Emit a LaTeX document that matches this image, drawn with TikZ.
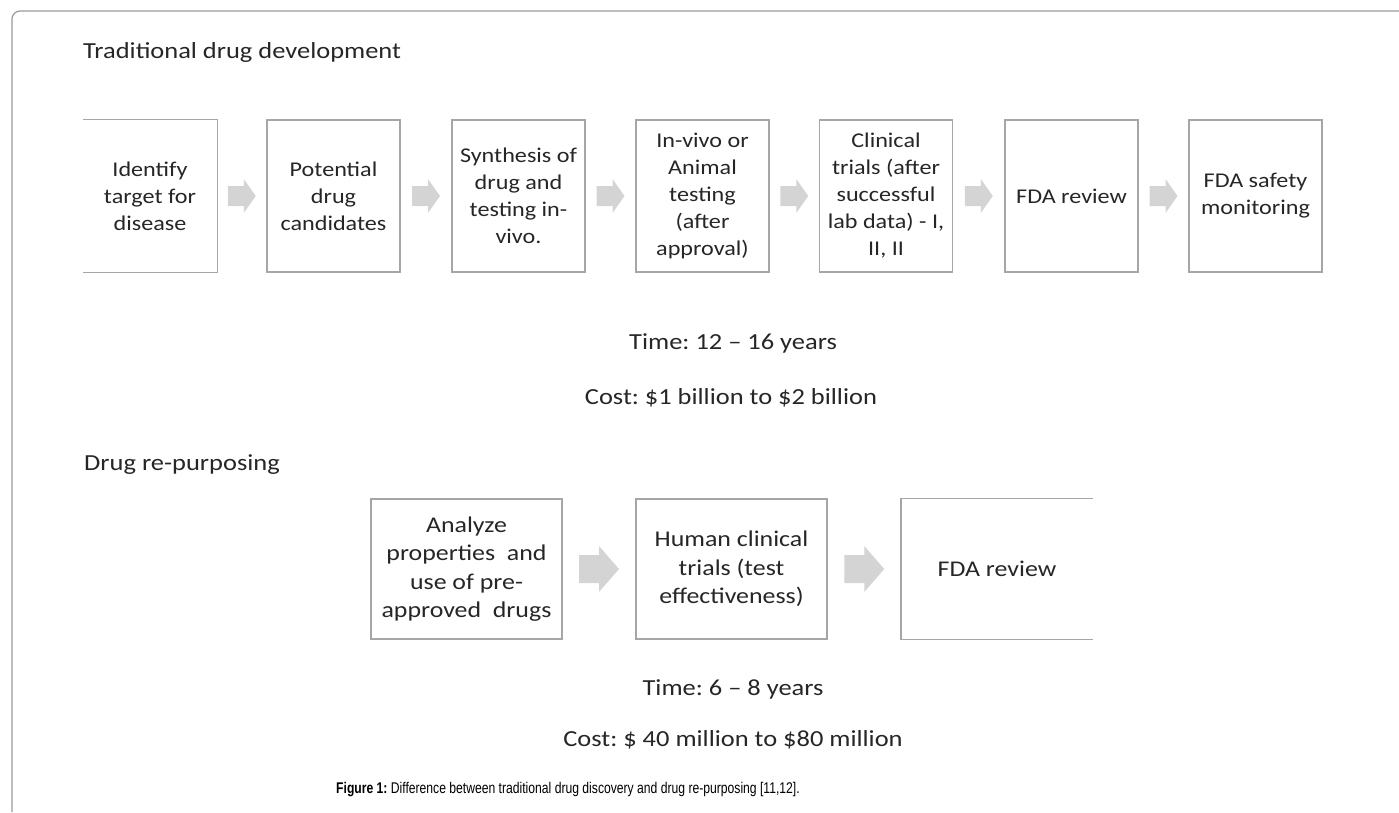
\documentclass[tikz,border=0pt]{standalone}
\usepackage{fontspec}
\setmainfont{Carlito}[FakeStretch=1.15]
\newfontfamily\capfont{Liberation Sans}
\usetikzlibrary{calc}
\frenchspacing
\definecolor{boxgray}{HTML}{A6A6A6}
\definecolor{framegray}{HTML}{9A9A9A}
\definecolor{arrowgray}{HTML}{D4D4D4}
\definecolor{txt}{HTML}{262626}
\tikzset{
  stepbox/.style={draw=boxgray, line width=1.3pt, minimum width=133pt, minimum height=152pt, align=center, inner sep=0pt, text=txt, font=\fontsize{21}{27}\selectfont},
  openbox/.style={stepbox, draw=none},
  bigbox/.style={stepbox, minimum width=191pt, minimum height=140pt, font=\fontsize{22.5}{28.5}\selectfont},
  arrowfill/.style={fill=arrowgray, draw=none},
  plain/.style={text=txt, font=\fontsize{23}{27}\selectfont, inner sep=0pt},
}
\newcommand\smallblockarrow[1]{%
  \fill[arrowfill] ($(#1)+(-14,-10)$) -- ++(16,0) -- ++(0,-7) -- ($(#1)+(14,0)$) -- ($(#1)+(2,17)$) -- ++(0,-7) -- ++(-16,0) -- cycle;}
\newcommand\bigblockarrow[1]{%
  \fill[arrowfill] ($(#1)+(-20,-14)$) -- ++(20,0) -- ++(0,-9) -- ($(#1)+(20,0)$) -- ($(#1)+(0,23)$) -- ++(0,-9) -- ++(-20,0) -- cycle;}
\begin{document}
\begin{tikzpicture}[x=1pt,y=-1pt]
\useasboundingbox (0,0) rectangle (1399,812);
% outer frame (top and left sides only visible)
\draw[framegray, line width=1.2pt, rounded corners=8pt] (12,812) -- (12,11) -- (1399,11);

\node[plain, anchor=west] (t1) at (83,52) {Traditional drug development};

% top row
\node[openbox] (b1) at (150,196) {Identify\\target for\\disease};
\draw[boxgray, line width=1.3pt] (b1.north west) -- (b1.north east) -- (b1.south east) -- (b1.south west);
\node[stepbox] (b2) at (333.5,196) {Potential\\drug\\candidates};
\node[stepbox] (b3) at (518.5,196) {Synthesis of\\drug and\\testing in-\\vivo.};
\node[stepbox] (b4) at (702.5,196) {In-vivo or\\Animal\\testing\\(after\\approval)};
\node[stepbox] (b5) at (886,196) {Clinical\\trials (after\\successful\\lab data) - I,\\II, II};
\node[stepbox] (b6) at (1071.5,196) {FDA review};
\node[stepbox] (b7) at (1255.5,196) {FDA safety\\monitoring};

\coordinate (a1) at ($(b1.east)!0.5!(b2.west)$);
\coordinate (a2) at ($(b2.east)!0.5!(b3.west)$);
\coordinate (a3) at ($(b3.east)!0.5!(b4.west)$);
\coordinate (a4) at ($(b4.east)!0.5!(b5.west)$);
\coordinate (a5) at ($(b5.east)!0.5!(b6.west)$);
\coordinate (a6) at ($(b6.east)!0.5!(b7.west)$);
\smallblockarrow{a1}\smallblockarrow{a2}\smallblockarrow{a3}
\smallblockarrow{a4}\smallblockarrow{a5}\smallblockarrow{a6}

\node[plain] (time1) at (733,343) {Time: 12 -- 16 years};
\node[plain] (cost1) at (731,398) {Cost: \$1 billion to \$2 billion};

\node[plain, anchor=west] (t2) at (84,465) {Drug re-purposing};

% bottom row
\node[bigbox] (c1) at (466.5,569) {Analyze\\properties~ and\\use of pre-\\approved~ drugs};
\node[bigbox] (c2) at (731.5,569) {Human clinical\\trials (test\\effectiveness)};
\node[bigbox, draw=none] (c3) at (997,569) {FDA review};
\draw[boxgray, line width=1.3pt] (c3.north east) -- (c3.north west) -- (c3.south west) -- (c3.south east);

\coordinate (d1) at ($(c1.east)!0.5!(c2.west)$);
\coordinate (d2) at ($(c2.east)!0.5!(c3.west)$);
\bigblockarrow{d1}\bigblockarrow{d2}

\node[plain] (time2) at (733,689) {Time: 6 -- 8 years};
\node[plain] (cost2) at (733,740) {Cost: \$ 40 million to \$80 million};

\node[text=black, inner sep=0pt, anchor=base] (cap) at (568,793) {\scalebox{0.784}[1]{\capfont\fontsize{15.5}{18}\selectfont\textbf{Figure 1:} Difference between traditional drug discovery and drug re-purposing [11,12].}};
\end{tikzpicture}
\end{document}
